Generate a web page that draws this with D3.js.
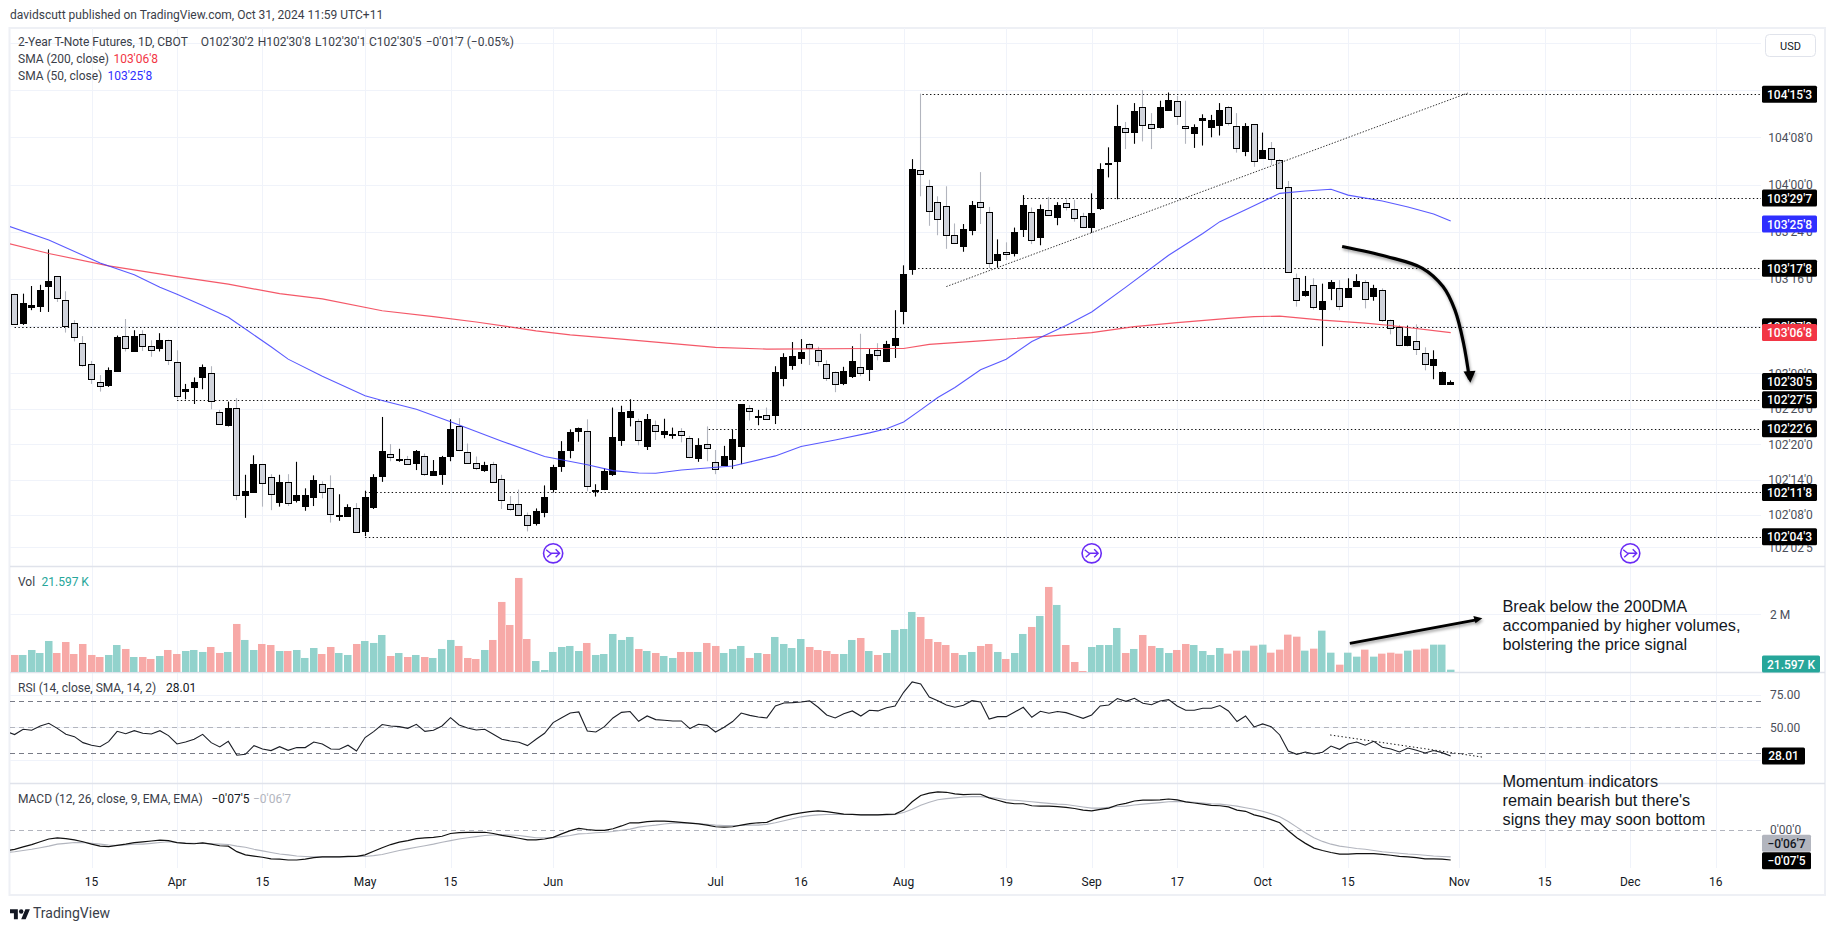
<!DOCTYPE html>
<html><head><meta charset="utf-8">
<style>
html,body{margin:0;padding:0;background:#fff;overflow:hidden}
svg{display:block;fill:#131722;font-family:Roboto,sans-serif;font-size:12px}
</style>
<script src="https://cdn.jsdelivr.net/npm/d3@7"></script>
</head><body><svg id="c" width="1835" height="931"></svg>
<script>
// All prices are in 32nds relative to 103'00'0.
const opens=[13.5,8.6,11.3,11.5,14.9,16.5,12.5,8.6,5.2,1.5,
-1.5,-2.0,0.4,6.4,3.8,6.6,4.7,4.3,5.7,2.0,
-3.1,-2.3,-0.7,0.0,-6.5,-8.7,-5.8,-20.6,-20.2,-15.4,
-17.6,-21.9,-18.5,-21.6,-22.6,-20.9,-18.7,-19.5,-24.2,-24.1,
-22.9,-26.7,-22.6,-17.4,-13.6,-14.8,-14.6,-15.3,-14.1,-17.2,
-17.0,-14.1,-9.0,-13.3,-15.2,-16.5,-15.3,-17.9,-22.1,-22.1,
-24.1,-25.5,-23.5,-19.6,-15.7,-13.1,-9.7,-9.7,-19.8,-19.7,
-17.1,-11.3,-7.4,-8.1,-12.2,-8.7,-10.3,-10.5,-9.8,-11.0,
-14.4,-12.0,-15.0,-15.5,-14.5,-12.3,-5.8,-7.4,-7.1,-7.1,
-0.7,1.4,2.6,5.0,3.9,1.5,0.2,-1.6,-0.5,1.0,
0.7,3.9,2.2,4.8,10.6,17.7,34.4,31.7,29.0,28.3,
23.4,21.6,24.3,29.0,27.3,19.1,20.6,20.3,24.5,27.4,
23.1,27.6,26.5,28.8,27.8,26.6,24.8,28.0,35.5,36.0,
41.5,40.8,45.1,42.2,41.8,44.7,46.1,42.0,40.6,42.8,
41.8,42.1,45.2,42.0,37.6,42.2,36.4,38.2,36.1,31.6,
16.2,13.2,14.9,10.8,14.5,14.5,13.0,14.8,15.4,13.0,
14.2,9.1,7.8,4.8,5.5,3.4,1.5,-1.8,-1.8];
const closes=[8.5,12.0,11.6,14.2,15.7,12.7,8.1,6.2,1.5,-1.0,
-2.1,0.6,6.1,4.4,6.3,4.6,4.1,5.7,2.3,-3.7,
-2.7,-1.4,1.0,-4.8,-8.5,-5.8,-20.5,-20.0,-15.4,-18.7,
-20.4,-18.5,-22.0,-20.7,-20.7,-18.1,-20.0,-23.9,-24.0,-22.6,
-27.0,-21.0,-17.5,-13.2,-14.1,-14.6,-15.4,-13.2,-17.1,-16.5,
-14.2,-9.5,-13.1,-15.1,-16.1,-15.6,-18.3,-21.5,-22.9,-24.0,
-25.8,-23.4,-20.9,-15.9,-13.1,-10.0,-9.2,-19.0,-19.7,-16.6,
-10.8,-6.6,-6.4,-11.4,-7.7,-9.7,-9.8,-10.3,-10.4,-14.3,
-12.2,-12.6,-16.2,-14.0,-11.1,-5.2,-6.3,-7.2,-7.7,0.2,
2.8,2.9,3.6,4.3,2.1,-0.9,-1.9,0.4,2.1,0.0,
3.3,3.0,5.0,6.0,16.9,34.6,33.7,27.4,26.1,23.4,
22.1,24.4,28.6,28.1,18.6,20.2,20.2,23.9,28.5,22.6,
27.9,26.8,28.5,28.1,26.3,24.7,27.1,34.6,35.6,42.0,
40.8,44.4,42.0,41.5,45.2,46.4,43.6,41.7,41.7,43.2,
43.0,44.7,42.5,38.2,41.9,35.9,37.8,36.4,31.3,17.2,
12.5,13.9,11.2,12.2,15.5,11.5,14.5,15.7,12.5,14.4,
9.1,7.8,4.7,6.4,4.2,1.6,2.5,0.3,-1.5];
const highs=[13.5,13.5,14.8,15.0,21.0,16.5,13.9,9.0,6.3,2.1,
-0.3,1.0,6.4,9.2,7.3,7.3,5.6,6.8,5.7,3.9,
-1.8,-0.7,1.5,1.2,-6.2,-4.8,-4.2,-17.2,-13.9,-15.4,
-17.1,-17.2,-17.1,-15.0,-19.5,-17.3,-18.3,-17.3,-20.5,-22.2,
-22.0,-19.9,-17.1,-7.4,-12.0,-12.8,-14.0,-13.0,-13.6,-14.7,
-14.0,-7.8,-7.6,-11.9,-14.1,-15.0,-15.0,-17.2,-20.8,-19.7,
-23.6,-22.9,-19.0,-15.5,-11.5,-9.5,-9.2,-7.8,-18.8,-16.1,
-5.8,-5.5,-4.4,-7.7,-6.9,-8.0,-7.7,-9.2,-9.3,-10.6,
-11.0,-9.0,-13.0,-12.3,-9.6,-5.2,-5.4,-6.2,-5.8,1.2,
3.4,5.3,5.8,5.1,4.5,2.2,0.3,1.1,4.6,6.7,
4.1,5.1,5.5,10.7,18.3,36.3,47.4,32.8,30.0,31.7,
25.4,25.3,29.2,34.1,28.2,22.7,22.2,24.7,30.2,28.1,
28.6,29.9,29.0,29.5,29.4,27.2,30.5,35.6,38.3,45.5,
42.6,45.8,48.0,44.1,46.2,47.6,47.0,46.2,42.2,43.9,
43.8,45.8,45.3,44.1,42.4,42.2,40.8,39.2,36.3,32.6,
16.9,16.5,16.1,15.2,15.8,15.8,16.1,16.8,15.8,15.0,
14.4,9.1,8.2,8.1,8.3,4.4,3.9,0.3,-1.2];
const lows=[8.5,8.2,10.7,10.4,10.4,12.1,6.9,5.4,1.1,-1.8,
-3.1,-2.3,0.4,3.7,3.8,3.8,2.8,3.7,1.4,-4.4,
-4.4,-5.2,-2.7,-6.1,-8.5,-9.0,-21.5,-24.5,-20.2,-22.6,
-23.2,-22.6,-22.5,-21.9,-23.3,-22.5,-21.2,-25.3,-25.0,-24.1,
-27.0,-27.6,-23.0,-18.4,-14.9,-15.0,-15.4,-16.4,-17.4,-17.2,
-18.9,-14.9,-13.2,-15.1,-16.4,-16.7,-18.3,-23.0,-23.3,-24.2,
-26.8,-25.8,-24.4,-20.2,-16.7,-14.4,-11.6,-20.0,-20.9,-19.8,
-17.4,-12.3,-9.0,-12.2,-13.0,-11.3,-11.0,-11.1,-11.7,-14.4,
-15.0,-14.9,-17.1,-15.5,-16.2,-15.4,-8.0,-8.8,-7.7,-8.6,
-2.2,0.6,1.6,1.4,1.2,-1.3,-3.2,-2.0,-0.8,-0.5,
-1.3,2.2,1.9,2.6,8.3,16.7,30.0,25.0,23.4,21.1,
21.9,20.6,23.4,25.3,17.8,18.0,19.2,19.8,23.1,21.9,
21.7,26.7,25.1,27.6,25.7,24.6,23.8,27.7,33.2,29.5,
38.0,38.9,39.3,38.0,41.5,44.6,42.1,38.9,38.2,38.6,
40.0,40.3,42.0,37.4,36.8,35.0,36.4,35.3,31.3,17.0,
11.3,13.0,10.8,4.6,12.4,10.7,12.8,14.7,11.0,12.3,
8.7,6.6,4.6,4.6,3.1,0.5,-1.0,-1.8,-1.9];
// Volume in thousands of contracts
const volumes=[590,590,763,659,1075,659,1040,624,971,590,
520,590,936,798,520,520,451,555,763,624,
728,763,694,867,659,694,1665,1110,763,971,
936,728,728,763,486,832,624,867,659,590,
971,1075,1006,1283,555,659,520,590,520,486,
798,1110,902,486,451,763,1110,2428,1630,3260,
1144,381,69,694,867,902,728,1006,590,624,
1318,1110,1214,798,728,659,555,486,694,694,
694,1006,902,659,798,902,486,659,624,1214,
971,832,1144,867,763,728,624,624,1110,1179,
728,590,659,1457,1491,2081,1907,1144,1040,936,
659,590,694,902,971,694,451,659,1318,1561,
1942,2948,2324,936,347,35,867,936,936,1526,
659,798,1283,902,832,659,763,971,936,728,
590,832,636,740,740,913,948,670,775,1295,
1225,740,809,1433,670,254,670,532,775,532,
636,670,636,740,775,809,948,948,81];
// RSI and MACD start one (clipped) bar before the first candle
const rsiValues=[46.9,44.4,48.5,47.7,51.0,53.1,49.2,44.6,42.8,38.2,36.2,
35.1,39.0,46.9,45.1,47.4,45.4,44.9,47.4,43.6,37.2,
38.7,40.8,44.6,38.2,34.9,39.2,28.5,29.2,35.9,33.3,
32.1,35.1,32.3,34.4,34.4,38.7,37.2,33.3,33.1,36.2,
31.8,42.1,46.7,52.1,51.0,50.5,49.2,52.3,46.9,47.7,
51.0,57.4,51.8,49.5,47.9,48.5,44.6,40.8,39.5,38.5,
35.9,40.8,45.4,53.6,57.4,61.0,61.8,47.2,46.4,50.5,
57.2,61.5,62.1,54.6,58.7,55.9,55.4,54.9,54.9,49.0,
52.3,51.5,46.4,50.0,54.4,61.0,59.2,57.9,57.2,66.4,
68.7,69.0,69.5,70.3,65.4,59.5,57.2,60.5,62.6,58.7,
63.1,62.6,65.1,66.4,76.9,84.9,83.3,73.3,70.5,67.2,
65.4,66.9,70.5,69.5,56.4,58.2,58.2,61.8,65.4,57.7,
62.3,60.8,62.1,61.3,59.0,56.9,59.5,66.4,67.2,72.1,
70.0,72.3,68.5,67.4,70.3,71.3,66.4,63.1,63.1,64.6,
64.6,66.7,62.6,54.4,58.7,50.3,52.6,50.5,44.1,31.8,
29.2,31.0,29.5,30.8,35.6,33.1,37.2,38.7,36.2,39.2,
34.6,33.3,31.0,34.1,32.3,30.3,32.1,30.5,28.0];
const macdValues=[-5.2,-4.8,-4.2,-3.6,-2.9,-2.2,-1.9,-2.1,-2.4,-2.9,-3.5,
-4.0,-4.1,-3.8,-3.5,-3.1,-2.9,-2.7,-2.5,-2.6,-3.1,
-3.3,-3.4,-3.2,-3.5,-3.9,-4.0,-5.4,-6.2,-6.5,-6.8,
-7.2,-7.3,-7.5,-7.5,-7.3,-6.9,-6.7,-6.7,-6.7,-6.6,
-6.6,-6.2,-5.3,-4.4,-3.6,-3.0,-2.6,-2.1,-1.9,-1.8,
-1.5,-0.8,-0.6,-0.5,-0.5,-0.5,-0.8,-1.3,-1.6,-2.0,
-2.4,-2.4,-2.2,-1.8,-0.9,-0.1,0.5,0.2,0.0,0.0,
0.4,1.1,1.9,1.9,2.2,2.3,2.3,2.2,2.0,1.8,
1.6,1.3,0.9,0.8,0.9,1.3,1.7,1.9,2.0,2.9,
3.5,4.0,4.4,4.7,4.9,4.7,4.4,4.1,4.0,3.9,
3.9,3.9,4.0,4.1,5.1,7.2,8.8,9.4,9.7,9.6,
9.2,9.0,9.1,9.1,8.2,7.6,7.0,6.7,6.7,6.2,
6.1,6.1,6.0,5.8,5.5,5.1,4.9,5.3,5.6,6.4,
6.8,7.4,7.6,7.6,7.7,7.9,7.7,7.2,6.9,6.6,
6.3,6.2,5.9,5.1,4.8,3.9,3.4,2.7,1.9,-0.1,
-1.9,-3.3,-4.5,-5.1,-5.6,-6.0,-6.0,-5.9,-5.9,-5.9,
-6.1,-6.3,-6.6,-6.7,-6.9,-7.2,-7.2,-7.3,-7.5];
const signalValues=[-5.6,-5.4,-5.1,-4.8,-4.4,-4.0,-3.5,-3.3,-3.1,-3.1,-3.3,
-3.5,-3.7,-3.8,-3.7,-3.5,-3.5,-3.3,-3.1,-2.9,-3.1,
-3.2,-3.3,-3.3,-3.4,-3.5,-3.6,-4.0,-4.3,-4.8,-5.2,
-5.6,-6.0,-6.2,-6.5,-6.6,-6.7,-6.7,-6.7,-6.7,-6.7,
-6.6,-6.6,-6.4,-6.1,-5.6,-5.1,-4.7,-4.3,-3.9,-3.5,
-3.0,-2.6,-2.2,-1.9,-1.6,-1.3,-1.2,-1.1,-1.2,-1.3,
-1.6,-1.9,-1.9,-1.9,-1.6,-1.3,-0.9,-0.8,-0.6,-0.5,
-0.3,0.0,0.3,0.8,1.1,1.3,1.6,1.8,1.8,1.8,
1.7,1.5,1.3,1.2,1.2,1.2,1.3,1.3,1.5,1.9,
2.4,2.9,3.4,3.7,3.9,4.0,4.0,4.0,4.0,3.9,
3.9,3.9,3.9,4.0,4.5,5.3,6.3,7.1,7.7,8.0,
8.2,8.4,8.5,8.5,8.3,8.1,7.7,7.6,7.4,7.2,
7.0,6.8,6.6,6.5,6.2,5.9,5.6,5.6,5.8,6.0,
6.1,6.4,6.6,6.8,7.0,7.2,7.3,7.2,7.1,6.9,
6.7,6.6,6.4,6.1,5.7,5.3,4.8,4.2,3.4,2.2,
0.8,-0.6,-1.9,-2.8,-3.5,-4.0,-4.3,-4.6,-4.8,-5.1,
-5.4,-5.6,-5.8,-6.0,-6.1,-6.3,-6.5,-6.6,-6.7];
// Moving averages: readings as [bar index, price in 32nds]
const sma50=[[-1,25.1],[4,22.6],[10,18.7],[14,16.7],[17,14.6],[19,13.4],[22,11.5],[25,9.5],[27,7.5],[30,4.5],[32,2.4],[36,-0.5],[41,-3.8],[43,-4.6],[47,-6.1],[51,-8.2],[53,-9.3],[57,-11.5],[62,-14.1],[67,-15.5],[70,-16.5],[73,-16.9],[75,-16.95],[78,-16.4],[84,-15.7],[89,-14.0],[92,-12.4],[96,-11.3],[100,-10.1],[102,-9.4],[104,-8.25],[106,-6.2],[108,-4.1],[110,-2.4],[113,0.6],[116,2.4],[119,5.4],[123,8.1],[126,10.4],[130,14.6],[135,20.0],[139,23.7],[141,25.7],[144,27.7],[148,30.5],[151,30.9],[154,31.2],[156,30.2],[160,29.2],[163,28.2],[166,27.0],[168,25.8]];
const sma200=[[-1,22.1],[4,20.3],[11,18.2],[19,16.4],[25,15.1],[31,13.5],[36,12.6],[43,10.6],[49,9.6],[54,8.7],[61,7.2],[65,6.5],[71,5.8],[82,4.4],[88,4.1],[100,4.2],[104,4.2],[107,4.9],[113,5.5],[121,6.3],[126,6.9],[131,7.9],[136,8.6],[142,9.3],[145,9.6],[148,9.7],[153,9.0],[158,8.5],[161,8.1],[168,6.9]];
// Horizontal levels: [price in 32nds, first bar]
const levels=[[47.3,106.2],[29.7,118],[17.8,105.7],[7.9,0],[-4.5,19],[-9.4,81.2],[-20.2,41],[-27.7,41]];
const trendPrice=[[109,14.7],[170,47.5]];
const trendRsi=[[153.9,44.1],[171.8,27]];
const curveArrow=[[155.3,21.5],[160.5,19.8],[164.7,17.8],[167.1,14.7],[168.5,10.7],[169.5,5.1],[170.2,-1.0]];
const curveHead=[[169.5,0.3],[170.9,0.44],[170.3,-1.6]];
const volArrow=[[156.2,995],[171,1810]];
const volHead=[[170.65,1941],[170.9,1688],[171.7,1861]];
const priceTicks=[[56,"104'24'0"],[48,"104'16'0"],[40,"104'08'0"],[32,"104'00'0"],[24,"103'24'0"],[16,"103'16'0"],[8,"103'08'0"],[0,"103'00'0"],[-6,"102'26'0"],[-12,"102'20'0"],[-18,"102'14'0"],[-24,"102'08'0"],[-29.5,"102'02'5"]];
const timeTicks=[[9,"15"],[19,"Apr"],[29,"15"],[41,"May"],[51,"15"],[63,"Jun"],[82,"Jul"],[92,"16"],[104,"Aug"],[116,"19"],[126,"Sep"],[136,"17"],[146,"Oct"],[156,"15"],[169,"Nov"],[179,"15"],[189,"Dec"],[199,"16"]];
const rsiTicks=[75,50,25];
const rsiBands=[70,50,30];
const eventBars=[63,126,189];
const priceTags=[[47.3,"104'15'3","#000"],[29.7,"103'29'7","#000"],[25.3,"103'25'8","#2f2fff"],[17.8,"103'17'8","#000"],[7.9,"103'07'9","#000"],[6.9,"103'06'8","#f23645"],[-1.4,"102'30'5","#000"],[-4.5,"102'27'5","#000"],[-9.4,"102'22'6","#000"],[-20.2,"102'11'8","#000"],[-27.7,"102'04'3","#000"]];
const note1=["Break below the 200DMA","accompanied by higher volumes,","bolstering the price signal"];
const note2=["Momentum indicators","remain bearish but there's","signs they may soon bottom"];

const svg=d3.select("#c");
const L=10,R=1761,FR=1825;
const x=d3.scaleLinear().domain([0,168]).range([14.6,1450.7]);
const yP=d3.scaleLinear().domain([0,32]).range([373.3,184.5]);
const yV=d3.scaleLinear().domain([0,2000]).range([672,614.3]);
const yR=d3.scaleLinear().domain([25,75]).range([759.8,694.8]);
const yM=d3.scaleLinear().domain([0,-7.5]).range([830.3,860]);
const crisp=v=>Math.round(v)+0.5;

const defs=svg.append("defs");
defs.append("clipPath").attr("id","plot").append("rect").attr("x",L).attr("y",28).attr("width",R-L).attr("height",840);
defs.append("filter").attr("id","soft").attr("x","-20%").attr("y","-20%").attr("width","140%").attr("height","140%")
 .append("feDropShadow").attr("dx",1).attr("dy",2).attr("stdDeviation",1.6).attr("flood-color","#000").attr("flood-opacity",.38);

const grid="#f0f3fa", sep="#e0e3eb";
// frame
svg.append("rect").attr("x",9.5).attr("y",28).attr("width",FR-9.5).attr("height",867).attr("fill","#fff").attr("stroke","#eef0f5").attr("stroke-width",2);

// vertical grid
svg.append("g").selectAll("line").data(timeTicks).join("line")
 .attr("x1",d=>crisp(x(d[0]))).attr("x2",d=>crisp(x(d[0]))).attr("y1",28).attr("y2",868).attr("stroke",grid);
// price grid
svg.append("g").selectAll("line").data(priceTicks).join("line")
 .attr("x1",L).attr("x2",R).attr("y1",d=>crisp(yP(d[0]))).attr("y2",d=>crisp(yP(d[0]))).attr("stroke",grid);
// other panes grid
svg.append("line").attr("x1",L).attr("x2",R).attr("y1",crisp(yV(2000))).attr("y2",crisp(yV(2000))).attr("stroke",grid);
svg.append("g").selectAll("line").data(rsiTicks).join("line")
 .attr("x1",L).attr("x2",R).attr("y1",d=>crisp(yR(d))).attr("y2",d=>crisp(yR(d))).attr("stroke",grid);
// separators
svg.append("g").selectAll("line").data([566,672,783]).join("line")
 .attr("x1",L).attr("x2",FR).attr("y1",d=>d+.5).attr("y2",d=>d+.5).attr("stroke",sep).attr("stroke-width",1.4);

// level lines
svg.append("g").selectAll("line").data(levels).join("line")
 .attr("x1",d=>x(d[1])).attr("x2",R).attr("y1",d=>crisp(yP(d[0]))).attr("y2",d=>crisp(yP(d[0])))
 .attr("stroke","#111").attr("stroke-dasharray","1.4,2.4").attr("stroke-width",1);

const plot=svg.append("g").attr("clip-path","url(#plot)");
const lineOf=(sy)=>d3.line().x(d=>x(d[0])).y(d=>sy(d[1]));

// candles
const bars=d3.range(opens.length).map(i=>({i,o:opens[i],c:closes[i],h:highs[i],l:lows[i],v:volumes[i],up:closes[i]>=opens[i]}));
const cg=plot.append("g");
cg.selectAll("line.w").data(bars).join("line").attr("class","w")
 .attr("x1",d=>crisp(x(d.i)-.5)).attr("x2",d=>crisp(x(d.i)-.5))
 .attr("y1",d=>yP(d.h)).attr("y2",d=>yP(d.l))
 .attr("stroke",d=>d.up?"#000":"#b2b5be").attr("stroke-width",1.1);
cg.selectAll("rect.b").data(bars).join("rect").attr("class","b")
 .attr("x",d=>crisp(x(d.i)-.5)-3).attr("width",6)
 .attr("y",d=>crisp(yP(Math.max(d.o,d.c))))
 .attr("height",d=>Math.max(1,Math.round(yP(Math.min(d.o,d.c))-yP(Math.max(d.o,d.c)))))
 .attr("fill",d=>d.up?"#000":"#d1d4dc").attr("stroke","#000").attr("stroke-width",1);

// moving averages
plot.append("path").attr("d",lineOf(yP)(sma200)).attr("fill","none").attr("stroke","#f23b4e").attr("stroke-width",1.2).attr("opacity",.85);
plot.append("path").attr("d",lineOf(yP)(sma50)).attr("fill","none").attr("stroke","#3d3dff").attr("stroke-width",1.1).attr("opacity",.85);

// trend lines
plot.append("path").attr("d",lineOf(yP)(trendPrice)).attr("fill","none").attr("stroke","#333").attr("stroke-dasharray","1.4,1.6").attr("stroke-width",1);

// volume
plot.append("g").selectAll("rect").data(bars).join("rect")
 .attr("x",d=>Math.round(x(d.i))-4).attr("width",7.5)
 .attr("y",d=>yV(d.v)).attr("height",d=>672-yV(d.v))
 .attr("fill",d=>d.up?"#92d2cc":"#f7a9a7");

// RSI
plot.append("g").selectAll("line").data(rsiBands).join("line")
 .attr("x1",L).attr("x2",R).attr("y1",d=>crisp(yR(d))).attr("y2",d=>crisp(yR(d)))
 .attr("stroke",d=>d===50?"#b2b5be":"#787b86").attr("stroke-dasharray","5,4");
plot.append("path").attr("d",d3.line().x((d,i)=>x(i-1)).y(d=>yR(d))(rsiValues)).attr("fill","none").attr("stroke","#1b1e26").attr("stroke-width",1.1);
plot.append("path").attr("d",lineOf(yR)(trendRsi)).attr("fill","none").attr("stroke","#111").attr("stroke-dasharray","1.4,2.4").attr("stroke-width",1);

// MACD
plot.append("line").attr("x1",L).attr("x2",R).attr("y1",crisp(yM(0))).attr("y2",crisp(yM(0))).attr("stroke","#b2b5be").attr("stroke-dasharray","5,4");
plot.append("path").attr("d",d3.line().x((d,i)=>x(i-1)).y(d=>yM(d))(signalValues)).attr("fill","none").attr("stroke","#b2b5be").attr("stroke-width",1.1);
plot.append("path").attr("d",d3.line().x((d,i)=>x(i-1)).y(d=>yM(d))(macdValues)).attr("fill","none").attr("stroke","#111").attr("stroke-width",1.2);

// hand-drawn arrows
const ar=svg.append("g").attr("filter","url(#soft)");
ar.append("path").attr("d",d3.line().x(d=>x(d[0])).y(d=>yP(d[1])).curve(d3.curveCatmullRom)(curveArrow)).attr("fill","none").attr("stroke","#000").attr("stroke-width",3.2);
ar.append("path").attr("d",lineOf(yP)(curveHead)+"Z").attr("fill","#000");
ar.append("path").attr("d",lineOf(yV)(volArrow)).attr("fill","none").attr("stroke","#000").attr("stroke-width",2.8);
ar.append("path").attr("d",lineOf(yV)(volHead)+"Z").attr("fill","#000");

// event markers
const ev=svg.append("g").selectAll("g").data(eventBars).join("g").attr("transform",d=>`translate(${x(d)},553.3)`);
ev.append("circle").attr("r",9.6).attr("fill","#fff").attr("stroke","#6a2cf5").attr("stroke-width",1.6);
ev.append("path").attr("d","M-7,-3.5 L-2,0.5 L-6,4 M-3,0 H6 M2.5,-4 L6.5,0 L2.5,4").attr("fill","none").attr("stroke","#6a2cf5").attr("stroke-width",1.4);

// price axis labels
const ax=svg.append("g");
ax.selectAll("text.pt").data(priceTicks.slice(2)).join("text").attr("class","pt")
 .attr("x",1790.5).attr("y",d=>yP(d[0])+.5).attr("text-anchor","middle").attr("dominant-baseline","central").attr("fill","#4a4e59").text(d=>d[1]);
// other pane labels
ax.append("text").attr("x",1770).attr("y",615).attr("dominant-baseline","central").attr("fill","#4a4e59").text("2 M");
ax.selectAll("text.rt").data(rsiTicks).join("text").attr("class","rt").attr("x",1770).attr("y",d=>yR(d)+.5).attr("dominant-baseline","central").attr("fill","#4a4e59").text(d=>d3.format(".2f")(d));
ax.append("text").attr("x",1770).attr("y",830).attr("dominant-baseline","central").attr("fill","#4a4e59").text("0'00'0");

function tag(yc,txt,fill,w,col){
 const g=ax.append("g");
 g.append("rect").attr("x",1762).attr("y",yc-8.5).attr("width",w).attr("height",17).attr("rx",1.5).attr("fill",fill);
 g.append("text").attr("x",1762+w/2).attr("y",yc+.5).attr("text-anchor","middle").attr("dominant-baseline","central").attr("fill",col||"#fff").attr("font-weight",500).text(txt);
}
priceTags.forEach(d=>tag(yP(d[0]),d[1],d[2],55));
tag(664,"21.597 K","#26a69a",58);
tag(yR(28.01),"28.01","#000",43);
tag(843.3,"−0'06'7","#b2b5be",49,"#131722");
tag(860.7,"−0'07'5","#000",49);

// USD box
svg.append("rect").attr("x",1765.5).attr("y",34.5).attr("width",50).attr("height",22).attr("rx",4).attr("fill","#fff").attr("stroke","#e0e3eb");
svg.append("text").attr("x",1790.5).attr("y",46).attr("text-anchor","middle").attr("dominant-baseline","central").style("font-size","11px").text("USD");

// time labels
svg.append("g").selectAll("text").data(timeTicks).join("text")
 .attr("x",d=>x(d[0])).attr("y",882).attr("text-anchor","middle").attr("dominant-baseline","central").text(d=>d[1]);

// header and legends
function put(px,py,txt,col){return svg.append("text").attr("x",px).attr("y",py).attr("dominant-baseline","central").attr("fill",col||"#3a3e49").text(txt);}
put(10,15,"davidscutt published on TradingView.com, Oct 31, 2024 11:59 UTC+11");
put(18,42,"2-Year T-Note Futures, 1D, CBOT");
put(200.8,42,"O102'30'2");put(257.7,42,"H102'30'8");put(315,42,"L102'30'1");put(369,42,"C102'30'5");put(425.7,42,"−0'01'7 (−0.05%)");
put(18,59,"SMA (200, close)");put(113.4,59,"103'06'8","#f23645");
put(18,76,"SMA (50, close)");put(107.5,76,"103'25'8","#2f2fff");
put(18,582,"Vol");put(41.5,582,"21.597 K","#26a69a");
put(18,688,"RSI (14, close, SMA, 14, 2)");put(166,688,"28.01","#131722");
put(18,799,"MACD (12, 26, close, 9, EMA, EMA)");put(211.5,799,"−0'07'5","#131722");put(253,799,"−0'06'7","#b2b5be");

// notes
[[note1,606.3],[note2,781]].forEach(([lines,y0])=>{
 lines.forEach((s,k)=>svg.append("text").attr("x",1502.5).attr("y",y0+k*19).attr("dominant-baseline","central").style("font-family","'Liberation Sans',Arial,sans-serif").style("font-size","16.3px").text(s));
});

// footer
const logo=svg.append("g").attr("transform","translate(10,907) scale(.56)");
logo.append("path").attr("d","M14 22H7V11H0V4h14v18zM28 22h-8l7.5-18h8L28 22z").attr("fill","#131722");
logo.append("circle").attr("cx",20).attr("cy",8).attr("r",4).attr("fill","#131722");
svg.append("text").attr("x",33).attr("y",913).attr("dominant-baseline","central").style("font-size","14px").attr("fill","#3a3e49").text("TradingView");
</script></body></html>
